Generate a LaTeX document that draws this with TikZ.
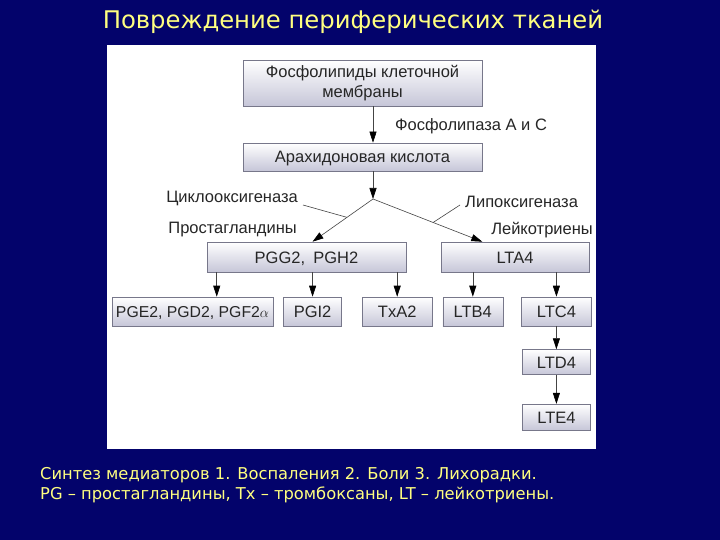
\documentclass[tikz,border=0pt]{standalone}
\usepackage{fontspec}
\setmainfont{Liberation Sans}
\newfontfamily\slidefont{DejaVu Sans}
\usetikzlibrary{arrows.meta, positioning, calc}
\definecolor{navy}{HTML}{03036B}
\definecolor{slideyellow}{HTML}{FFFF80}
\definecolor{boxedge}{HTML}{77778A}
\definecolor{boxlow}{HTML}{C6C6D8}
\definecolor{inkgrey}{HTML}{262626}
\definecolor{wiregrey}{HTML}{444444}
\tikzset{
  cellbase/.style={rectangle, draw=boxedge, semithick, top color=white, bottom color=boxlow,
    minimum height=29pt, inner sep=0pt, align=center, font=\fontsize{16.5}{20}\selectfont, text=inkgrey},
  cell/.style={cellbase, text height=12pt, text depth=0pt},
  enzyme/.style={font=\fontsize{16.5}{18}\selectfont, text=inkgrey, inner sep=0pt},
  arrow/.style={-{Triangle[length=11pt, width=7pt, color=black]}, semithick, wiregrey},
  pointer/.style={semithick, wiregrey},
  slidetext/.style={font=\slidefont\fontsize{16.3}{20}\selectfont, text=slideyellow, inner sep=0pt},
}

\begin{document}
\begin{tikzpicture}[x=1pt, y=-1pt]
\fill[navy] (0,0) rectangle (720,540);
\fill[white] (107,45) rectangle (596,449);
\node[slidetext, font=\slidefont\fontsize{24.3}{30}\selectfont] (title) at (353,22) {Повреждение периферических тканей};

\node[cellbase, minimum width=239pt, minimum height=46pt] (membrane) at (362.5,83) {Фосфолипиды клеточной\\мембраны};
\node[cell, minimum width=239pt, minimum height=28pt] (arachidonic) at (362.5,157) {Арахидоновая кислота};
\coordinate (split) at (373,199);
\node[cell, minimum width=199pt, minimum height=30pt] (pgg) at (306.5,257) {PGG2,\enspace PGH2};
\node[cell, minimum width=148pt, minimum height=30pt] (lta) at (515,257) {LTA4};
\node[cell, minimum width=161pt, font=\fontsize{15.8}{20}\selectfont] (pge) at (192.5,311.5) {PGE2, PGD2, PGF2$\alpha$};
\node[cell, minimum width=58pt, right=10pt of pge] (pgi) {PGI2};
\node[cell, minimum width=70pt, right=20pt of pgi] (txa) {TxA2};
\node[cell, minimum width=60pt, right=10pt of txa] (ltb) {LTB4};
\node[cell, minimum width=70pt, right=18pt of ltb] (ltc) {LTC4};
\node[cell, minimum width=68pt, minimum height=25pt, below=23pt of ltc] (ltd) {LTD4};
\node[cell, minimum width=68pt, minimum height=26pt, below=29pt of ltd] (lte) {LTE4};

\node[enzyme, anchor=west] (phospholipase) at (395,126) {Фосфолипаза А и С};
\node[enzyme, anchor=east] (cox) at (298,198) {Циклооксигеназа};
\node[enzyme, anchor=west] (lox) at (465,202) {Липоксигеназа};
\node[enzyme, anchor=east] (pglabel) at (297,230) {Простагландины};
\node[enzyme, anchor=east] (ltlabel) at (593,230) {Лейкотриены};

\coordinate (pggin) at ($(pgg.north west)!0.53!(pgg.north east)$);
\coordinate (ltain) at ($(lta.north west)!0.28!(lta.north east)$);
\coordinate (pgein) at ($(pge.north west)!0.65!(pge.north east)$);
\draw[arrow] (membrane.south -| split) -- (arachidonic.north -| split);
\draw[arrow] (arachidonic.south -| split) -- (split);
\draw[arrow] (split) -- (pggin);
\draw[arrow] (split) -- (ltain);
\draw[pointer] ($(cox.east)+(5,7)$) -- ($(split)!0.43!(pggin)$);
\draw[pointer] ($(lox.west)+(-5,3)$) -- ($(split)!0.55!(ltain)$);
\draw[arrow] (pgg.south -| pgein) -- (pgein);
\foreach \n in {pgi, txa} \draw[arrow] (pgg.south -| \n.north) -- (\n.north);
\foreach \n in {ltb, ltc} \draw[arrow] (lta.south -| \n.north) -- (\n.north);
\draw[arrow] (ltc) -- (ltd);
\draw[arrow] (ltd) -- (lte);

\node[slidetext, anchor=north west, align=left] (caption) at (40,467) {Синтез медиаторов 1. Воспаления 2. Боли 3. Лихорадки.\\PG – простагландины, Tx – тромбоксаны, LT – лейкотриены.};
\end{tikzpicture}
\end{document}
